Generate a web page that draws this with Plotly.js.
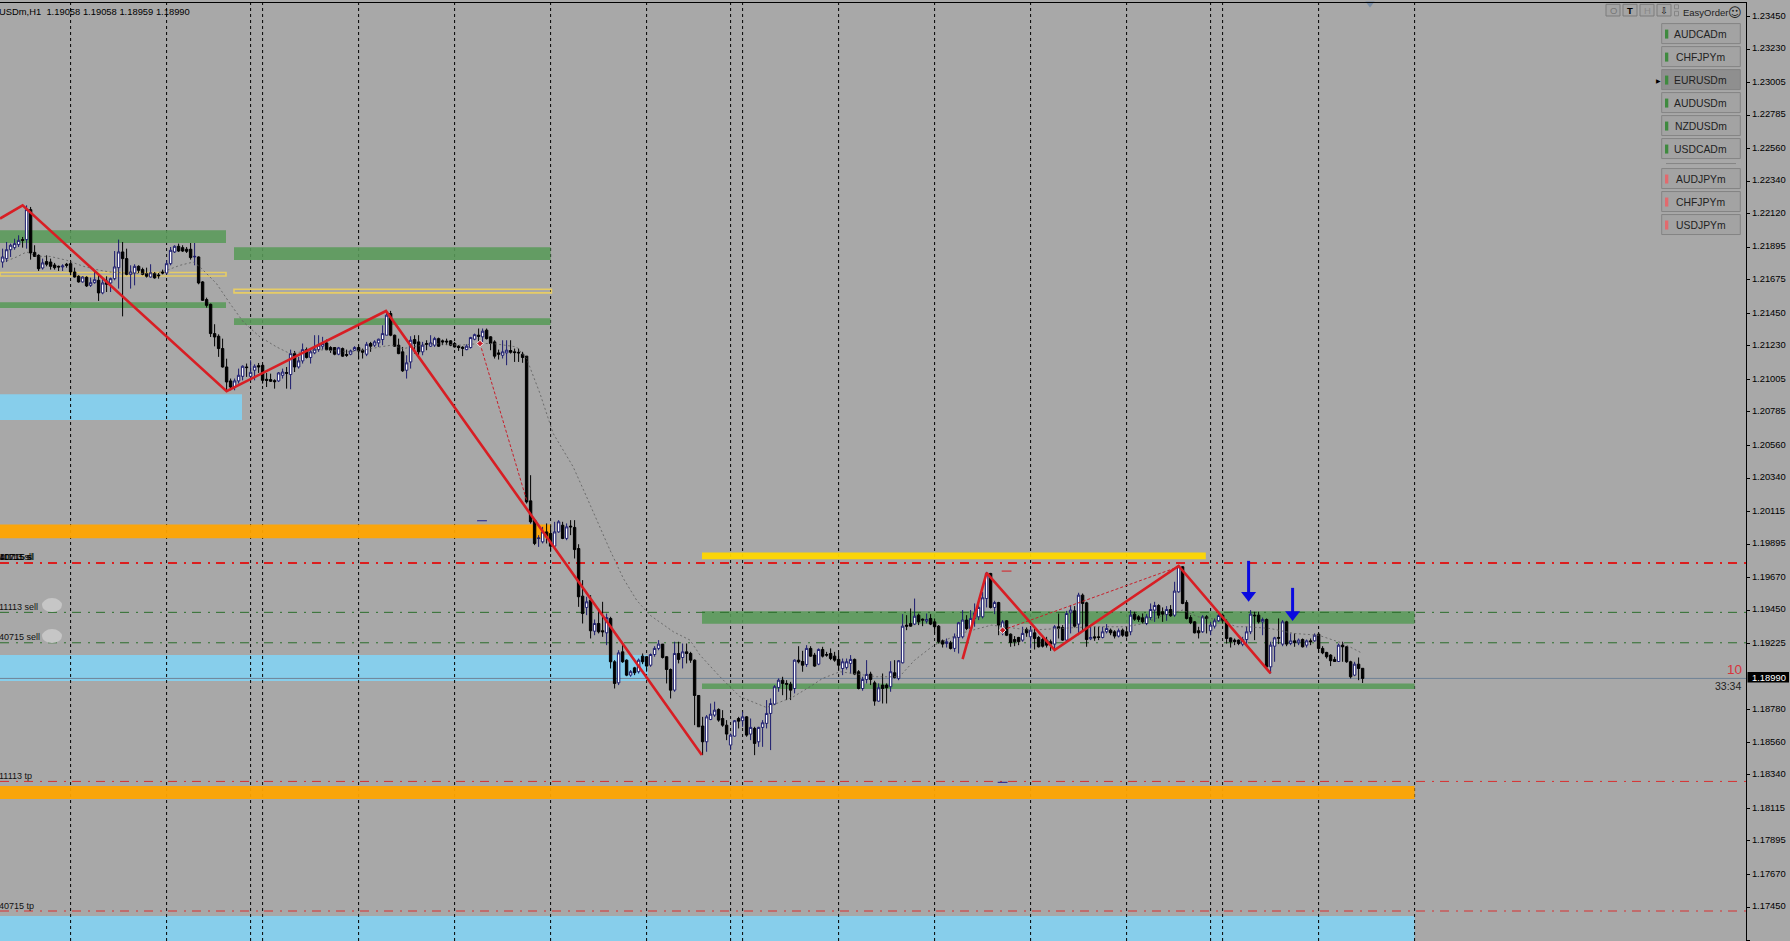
<!DOCTYPE html>
<html><head><meta charset="utf-8">
<script src="https://cdn.plot.ly/plotly-3.0.1.min.js"></script>
<style>html,body{margin:0;padding:0;background:#a8a8a8;overflow:hidden}</style>
</head><body><div id="chart" style="width:1790px;height:941px"></div>
<script>
// OHLC in points (1e-5 of price)
const openPts=[121795,121818,121878,121892,121912,121946,121946,122148,121860,121840,
121755,121798,121795,121775,121766,121762,121780,121784,121728,121699,
121661,121692,121638,121656,121672,121587,121667,121654,121683,121757,
121863,121818,121712,121721,121766,121744,121717,121694,121717,121708,
121728,121721,121784,121863,121901,121892,121881,121881,121829,121829,
121661,121542,121510,121313,121295,121212,121088,120994,120953,120994,
121025,121088,121025,121066,121097,121099,121005,121003,120996,120994,
121032,121050,121037,121178,121088,121129,121205,121152,121183,121205,
121228,121250,121219,121219,121174,121212,121172,121174,121201,121219,
121201,121174,121246,121235,121250,121273,121302,121448,121302,121235,
121190,121066,121122,121273,121257,121190,121246,121228,121235,121279,
121264,121262,121264,121246,121228,121221,121205,121219,121275,121302,
121291,121336,121291,121257,121183,121167,121183,121199,121190,121187,
121174,121161,120186,120056,119932,119910,119977,119966,119881,119977,
120022,119933,120016,120007,119865,119544,119468,119517,119308,119360,
119311,119297,119394,119102,118960,119169,119113,119012,119061,119035,
119140,119136,119079,119151,119192,119221,119136,119050,118911,119158,
119131,119169,119158,119113,118875,118669,118563,118713,118743,118781,
118720,118675,118541,118601,118720,118705,118731,118615,118653,118563,
118660,118687,118754,118817,118929,118978,118956,118951,118922,119113,
119104,119084,119192,119147,119086,119185,119151,119158,119140,119118,
119057,119064,119091,119118,119035,118922,118983,119019,118960,118837,
118945,118945,118934,119028,118990,119095,119349,119360,119356,119416,
119389,119376,119394,119371,119342,119243,119225,119230,119192,119266,
119270,119383,119326,119394,119405,119405,119528,119697,119468,119501,
119297,119378,119288,119252,119266,119248,119320,119270,119297,119266,
119252,119248,119237,119221,119338,119333,119248,119432,119445,119356,
119551,119499,119257,119270,119270,119266,119304,119315,119304,119275,
119315,119304,119304,119423,119405,119398,119360,119400,119450,119481,
119439,119421,119454,119416,119573,119742,119501,119400,119371,119311,
119304,119405,119311,119342,119378,119416,119371,119263,119248,119248,
119221,119252,119304,119416,119416,119371,119387,119068,119207,119266,
119221,119371,119225,119243,119230,119252,119214,119243,119243,119288,
119192,119165,119147,119118,119104,119214,119203,119102,119012,119086,119058];
const highPts=[121885,121930,121919,121952,121975,121964,122177,122166,121908,121847,
121818,121840,121818,121789,121771,121780,121789,121802,121757,121706,
121699,121699,121690,121739,121717,121690,121699,121690,121869,121946,
121930,121885,121773,121780,121773,121757,121757,121780,121728,121721,
121744,121807,121896,121908,121919,121908,121896,121923,121923,121833,
121667,121555,121515,121376,121308,121279,121144,121010,121010,121077,
121099,121111,121133,121106,121115,121106,121048,121043,121005,121054,
121077,121088,121205,121196,121156,121246,121219,121205,121302,121302,
121291,121273,121228,121219,121223,121219,121205,121205,121228,121235,
121212,121257,121257,121268,121279,121369,121466,121466,121306,121279,
121223,121167,121295,121302,121302,121257,121268,121302,121291,121286,
121273,121279,121268,121257,121235,121228,121241,121291,121313,121347,
121347,121347,121295,121268,121205,121268,121268,121268,121212,121212,
121190,121161,120359,120056,119955,120011,120034,120022,120045,120056,
120045,120034,120056,120056,119894,119652,119540,119551,119387,119461,
119506,119427,119405,119113,119180,119225,119118,119046,119068,119124,
119158,119140,119158,119207,119248,119221,119140,119057,119237,119237,
119225,119225,119169,119118,118877,118731,118743,118821,118833,118788,
118776,118709,118619,118709,118731,118765,118736,118720,118664,118664,
118709,118844,118855,118945,118990,119001,118978,118967,119118,119207,
119176,119214,119207,119162,119192,119203,119169,119192,119169,119162,
119124,119124,119147,119124,119046,119001,119113,119035,118974,118956,
119023,118956,119106,119113,119113,119423,119416,119461,119528,119427,
119394,119427,119423,119394,119349,119252,119259,119243,119293,119371,
119450,119416,119450,119495,119506,119573,119708,119701,119513,119506,
119383,119383,119293,119275,119270,119338,119333,119338,119333,119275,
119281,119270,119252,119349,119427,119349,119445,119484,119477,119567,
119562,119506,119338,119338,119338,119338,119356,119326,119315,119326,
119326,119333,119450,119439,119416,119427,119423,119495,119506,119490,
119468,119477,119484,119641,119753,119746,119517,119416,119376,119338,
119416,119416,119371,119394,119427,119427,119387,119266,119259,119252,
119270,119338,119450,119439,119439,119400,119394,119237,119270,119394,
119383,119378,119293,119293,119259,119259,119252,119259,119293,119293,
119207,119169,119153,119136,119225,119237,119207,119109,119102,119131,119058];
const lowPts=[121757,121795,121829,121878,121896,121892,121885,121811,121829,121735,
121744,121766,121744,121744,121735,121735,121757,121706,121690,121656,
121656,121627,121627,121649,121533,121578,121593,121593,121672,121616,
121429,121706,121616,121638,121721,121706,121690,121690,121683,121683,
121712,121712,121773,121856,121863,121863,121856,121811,121773,121645,
121533,121488,121290,121227,121156,121084,120931,120931,120931,120976,
120998,121021,120998,120998,121048,120976,120953,120987,120942,120987,
121010,120942,120938,121054,121077,121111,121145,121111,121174,121190,
121205,121201,121183,121167,121167,121156,121156,121167,121196,121138,
121145,121161,121190,121223,121223,121235,121302,121295,121223,121174,
121055,121010,121077,121178,121167,121167,121201,121223,121223,121223,
121235,121235,121228,121219,121196,121161,121201,121212,121268,121235,
121257,121273,121201,121145,121138,121145,121100,121178,121122,121122,
121116,120168,120033,119888,119876,119899,119899,119843,119876,119971,
119928,119921,119955,119798,119472,119360,119416,119259,119281,119293,
119270,119214,119057,118922,118945,119095,119005,119001,119012,119023,
119086,119035,119068,119136,119180,119124,118956,118855,118900,119091,
119057,119091,119095,118675,118664,118473,118496,118709,118731,118698,
118664,118574,118507,118597,118653,118664,118597,118574,118473,118529,
118529,118653,118507,118810,118900,118877,118844,118844,118889,119091,
119035,119068,119136,119068,119079,119131,119136,119113,119102,119046,
119012,119050,119023,119012,118916,118907,118956,118945,118806,118833,
118821,118821,118900,118990,118978,119091,119315,119338,119349,119349,
119342,119360,119349,119293,119225,119198,119198,119185,119169,119158,
119259,119315,119315,119338,119383,119394,119468,119461,119423,119281,
119281,119275,119203,119207,119214,119237,119270,119192,119185,119198,
119198,119198,119176,119180,119259,119243,119237,119293,119333,119281,
119315,119203,119248,119243,119248,119259,119293,119281,119259,119266,
119270,119266,119281,119378,119371,119360,119349,119383,119371,119394,
119371,119378,119405,119405,119567,119490,119387,119356,119293,119259,
119297,119293,119281,119326,119371,119360,119225,119198,119214,119214,
119207,119214,119288,119248,119360,119281,119057,119023,119102,119221,
119207,119207,119214,119203,119214,119198,119198,119214,119237,119162,
119153,119124,119073,119102,119102,119102,119095,118990,119005,118978,118959];
const closePts=[121829,121878,121908,121919,121941,121941,122148,121856,121833,121750,
121789,121780,121766,121757,121762,121768,121773,121728,121694,121661,
121694,121634,121656,121676,121587,121654,121645,121683,121762,121863,
121818,121712,121728,121766,121739,121712,121699,121723,121688,121703,
121721,121784,121874,121901,121869,121869,121867,121825,121833,121654,
121537,121503,121313,121290,121212,121088,120987,120953,120994,121032,
121093,121084,121052,121093,121088,120998,120998,120992,120989,121048,
121054,121046,121178,121088,121129,121205,121152,121190,121208,121235,
121246,121205,121201,121174,121217,121161,121167,121196,121219,121196,
121187,121241,121228,121257,121275,121313,121437,121302,121228,121178,
121062,121116,121268,121246,121190,121235,121241,121250,121279,121228,
121257,121257,121235,121223,121219,121214,121228,121286,121306,121295,
121329,121279,121246,121161,121174,121190,121201,121187,121185,121183,
121152,120179,120045,119899,119936,119977,119944,119881,119977,120045,
119933,120011,120011,119858,119540,119427,119506,119311,119360,119304,
119304,119400,119102,118956,119162,119102,119012,119035,119028,119113,
119102,119073,119151,119192,119221,119131,119050,118911,119158,119118,
119169,119158,119113,118875,118664,118563,118731,118749,118776,118709,
118675,118615,118608,118705,118702,118731,118608,118660,118552,118660,
118691,118754,118821,118934,118978,118956,118951,118911,119113,119102,
119079,119192,119140,119073,119185,119140,119147,119124,119113,119079,
119102,119102,119118,119019,118922,118983,119017,118983,118837,118927,
118922,118927,119035,118996,119109,119342,119342,119342,119409,119371,
119383,119387,119356,119338,119237,119221,119237,119192,119270,119365,
119383,119326,119394,119432,119468,119533,119697,119468,119501,119349,
119371,119281,119232,119237,119237,119293,119297,119315,119259,119203,
119207,119214,119221,119338,119326,119248,119427,119450,119342,119551,
119495,119252,119266,119263,119266,119304,119326,119297,119275,119311,
119281,119275,119416,119389,119387,119371,119405,119454,119481,119416,
119423,119454,119412,119578,119742,119495,119394,119365,119297,119297,
119405,119394,119349,119378,119414,119378,119259,119237,119237,119225,
119252,119304,119423,119412,119371,119387,119068,119214,119263,119261,
119371,119221,119243,119230,119248,119203,119243,119237,119281,119192,
119162,119136,119109,119104,119214,119203,119102,119001,119086,119057,118990];

// period separators (bar index)
const separators=[17,41,62,65,89,113,137,161,182,185,209,233,257,281,302,305,329,353];

// zigzag legs [bar, points]
const zigA_x=[-0.65,5,56,95.85,174.8];
const zigA_y=[122088,122177,120925,121465,118474];
const zigB_x=[240,246,263,294,317];
const zigB_y=[119120,119701,119181,119748,119024];
const thinA_x=[119.35,131];
const thinA_y=[121246,120191];
const thinB_x=[250,294];
const thinB_y=[119315,119742];

// moving average
const maBars=[1,3.5,6,8.5,11.85,16,20.2,24.35,26.85,32.65,38.5,41,44.35,47.65,49.35,53.5,56.85,60.2,64.35,68.5,71.85,78.5,86.85,91,94.35,97.25,100.1,102.65,107.6,114.35,119.35,122.6,128.5,131,134.35,137.65,142.65,146,151.85,155.2,158.5,161.85,167.7,171.85,174.35,179.35,184.35,191,194.35,197.65,201.85,205,209.35,218.5,224.2,228,232.85,239.5,247.2,256.75,272,280.65,285.45,290.25,295,298.85,304.6,308.4,311.3,317,322.75,329,335.2,340];
const maPts=[121802,121829,121863,121833,121833,121807,121766,121739,121728,121717,121721,121739,121773,121795,121762,121649,121515,121391,121290,121223,121178,121205,121190,121205,121223,121235,121212,121223,121246,121235,121246,121246,121223,121145,120909,120640,120415,120213,119854,119663,119517,119416,119304,119248,119147,119001,118866,118794,118832,118866,118934,118990,119035,119001,119001,119113,119214,119293,119349,119315,119338,119338,119360,119416,119450,119405,119383,119338,119338,119326,119293,119281,119225,119158];

// zones: bar0, bar1, points low, points high
const greenZones=[[-0.65,55.85,121923,122009],[57.85,137,121809,121894],[-0.65,55.85,121486,121524],[57.85,137,121371,121416],[174.85,353,119358,119443],[174.85,353,118918,118956]];
const blueZones=[[-0.65,59.85,120731,120905],[-0.65,161.35,118972,119147],[-0.65,353,117221,117389]];
const orangeZones=[[-0.65,137,119935,120027],[-0.65,353,118177,118265]];
const goldSolid=[[174.85,300.8,119793,119839]];
const goldHollow=[[-0.65,55.85,121701,121724],[57.85,137.2,121587,121612]];

const redThick=[119767];
const redThin=[118296,117423];
const greenThin=[119435,119230];
const bidPts=118990;

const arrowBars=[311.5,322.5];
const arrowTops=[119782,119600];
const arrowHeads=[119551,119420];

const navyDashBars=[119.85,250];
const navyDashPts=[120052,118290];
const redDashBars=[251];
const redDashPts=[119713];
const pivotBars=[119.35,250];
const pivotPts=[121246,119315];

const priceTicks=["1.23450","1.23230","1.23005","1.22785","1.22560","1.22340","1.22120","1.21895","1.21675","1.21450","1.21230","1.21005","1.20785","1.20560","1.20340","1.20115","1.19895","1.19670","1.19450","1.19225","1.18780","1.18560","1.18340","1.18115","1.17895","1.17670","1.17450","1.17225"];
const symbolsBuy=["AUDCADm","CHFJPYm","EURUSDm","AUDUSDm","NZDUSDm","USDCADm"];
const symbolsSell=["AUDJPYm","CHFJPYm","USDJPYm"];

const pr=v=>v/1e5, prs=a=>a.map(pr);
const W=1790,H=941,PW=1746,T=2.7;
const px=x=>x/PW, py=y=>1-(y-T)/(H-T);
const FONT='"Liberation Sans", Arial, sans-serif';
const xMin=-0.65,xMax=435.85,yTop=1.2354,yBot=1.17221;

const shapes=[],ann=[];
const zone=(z,fill,op)=>shapes.push({type:'rect',layer:'below',xref:'x',yref:'y',x0:z[0],x1:z[1],y0:pr(z[2]),y1:pr(z[3]),fillcolor:fill,opacity:op||1,line:{width:0}});
blueZones.forEach(z=>zone(z,'#87ceeb'));
separators.forEach(s=>shapes.push({type:'line',layer:'below',xref:'x',yref:'y',x0:s,x1:s,y0:yBot,y1:yTop,line:{color:'#000',width:1,dash:'3px,3px'}}));
greenZones.forEach(z=>zone(z,'#599a59',0.88));
orangeZones.forEach(z=>zone(z,'#ffa500',0.94));
goldSolid.forEach(z=>zone(z,'#ffd700',0.95));
goldHollow.forEach(z=>shapes.push({type:'rect',layer:'below',xref:'x',yref:'y',x0:z[0],x1:z[1],y0:pr(z[2]),y1:pr(z[3]),fillcolor:'rgba(0,0,0,0)',line:{color:'#e6cc66',width:1.6}}));
const hline=(v,c,w,d)=>shapes.push({type:'line',layer:'below',xref:'x',yref:'y',x0:xMin,x1:xMax,y0:pr(v),y1:pr(v),line:{color:c,width:w,dash:d}});
hline(bidPts,'#6f8296',1,'solid');
redThick.forEach(v=>hline(v,'#dc1e1e',2,'9px,7px,2px,6px'));
redThin.forEach(v=>hline(v,'#d83030',1,'9px,7px,2px,6px'));
greenThin.forEach(v=>hline(v,'#2c6e2c',1,'9px,7px,2px,6px'));

const text=(t,x,y,o={})=>ann.push({xref:'paper',yref:'paper',x:px(x),y:py(y),text:t,showarrow:false,xanchor:o.a||'left',yanchor:'middle',
  font:{family:o.f||FONT,size:o.s||9,color:o.c||'#111'},borderpad:0,borderwidth:0});
const rect=(x0,y0,x1,y1,fill,line)=>shapes.push({type:'rect',layer:'above',xref:'paper',yref:'paper',x0:px(x0),x1:px(x1),y0:py(y0),y1:py(y1),fillcolor:fill,line:{color:line||fill,width:line?1:0}});

// sell badges
[[605],[636]].forEach(r=>shapes.push({type:'circle',layer:'above',xref:'paper',yref:'paper',x0:px(42),x1:px(62),y0:py(r[0]-7),y1:py(r[0]+7),fillcolor:'#c6c6c6',line:{width:0}}));

text('USDm,H1  1.19058 1.19058 1.18959 1.18990',-1,11,{s:9.4,c:'#000'});
text('40715 sl',-1,557,{s:9,c:'#000'});text('11113 sl',-0.6,557,{s:9,c:'#000'});text('40715 sl',-0.2,557,{s:9,c:'#000'});
text('11113 sell',-1,606.5);text('40715 sell',-1,636.5);
text('11113 tp',-1,776);text('40715 tp',-1,906);
text('10',1734,669,{s:13.5,c:'#d8343c',a:'center'});
text('33:34',1727.5,686,{s:10.5,c:'#222',a:'center'});
rect(1747.5,672,1789,682.5,'#000');
text('1.18990',1752,677.3,{s:9.4,c:'#fff'});

// order panel
[['O',1606,'#777'],['<b>T</b>',1623,'#000'],['H',1640,'#888'],['⇩',1657,'#111']].forEach(b=>{
  rect(b[1],4,b[1]+14,15.7,'#a4a4a4','#7c7c7c');
  text(b[0],b[1]+7,10,{s:9.5,c:b[2],a:'center',f:b[0]==='⇩'?'"DejaVu Sans"':FONT});
});
rect(1674.5,4.5,1678.5,8.5,'#a8a8a8','#858585');rect(1674.5,11,1678.5,15.5,'#a8a8a8','#858585');
text('EasyOrder',1705.7,12,{s:9.5,a:'center',c:'#222'});
text('☺',1735,12,{s:13,a:'center',f:'"DejaVu Sans"',c:'#222'});
const rowTop=[23.3,46.3,69.3,92.3,115.3,138.3,168.3,191.3,214.3];
symbolsBuy.concat(symbolsSell).forEach((s,i)=>{
  const y=rowTop[i],buy=i<symbolsBuy.length,act=s==='EURUSDm'&&i===2;
  rect(1661.7,y,1740.3,y+20,act?'#8f8f8f':'#a3a3a3','#848484');
  rect(1665,y+6,1668.3,y+15,buy?'#3f8a3f':'#e26a6e');
  text(s,1700.5,y+11,{s:10.4,a:'center',c:'#222'});
});
shapes.push({type:'line',layer:'above',xref:'paper',yref:'paper',x0:px(1666),x1:px(1736),y0:py(163.3),y1:py(163.3),line:{color:'#858585',width:1}});
text('▶',1658,80,{s:6,a:'center',c:'#000',f:'"DejaVu Sans"'});

const xs=openPts.map((_,i)=>i);
const traces=[
 {type:'scatter',mode:'lines',x:maBars,y:prs(maPts),line:{color:'#5c5c5c',width:0.8,dash:'2px,2.5px'},hoverinfo:'skip'},
 {type:'candlestick',x:xs,open:prs(openPts),high:prs(highPts),low:prs(lowPts),close:prs(closePts),whiskerwidth:0,
  increasing:{line:{color:'#1c1c6e',width:1},fillcolor:'#ffffff'},decreasing:{line:{color:'#000',width:1},fillcolor:'#000'},hoverinfo:'skip'},
 {type:'scatter',mode:'lines',x:thinA_x,y:prs(thinA_y),line:{color:'#c81e2a',width:1,dash:'3px,2px'},hoverinfo:'skip'},
 {type:'scatter',mode:'lines',x:thinB_x,y:prs(thinB_y),line:{color:'#c81e2a',width:1,dash:'3px,2px'},hoverinfo:'skip'},
 {type:'scatter',mode:'lines',x:zigA_x,y:prs(zigA_y),line:{color:'#d81e24',width:2.6},hoverinfo:'skip'},
 {type:'scatter',mode:'lines',x:zigB_x,y:prs(zigB_y),line:{color:'#d81e24',width:2.6},hoverinfo:'skip'},
 {type:'scatter',mode:'lines',x:[arrowBars[0],arrowBars[0]],y:prs([arrowTops[0],arrowHeads[0]]),line:{color:'#0a0ae0',width:3},hoverinfo:'skip'},
 {type:'scatter',mode:'lines',x:[arrowBars[1],arrowBars[1]],y:prs([arrowTops[1],arrowHeads[1]]),line:{color:'#0a0ae0',width:3},hoverinfo:'skip'},
 {type:'scatter',mode:'markers',x:arrowBars,y:prs(arrowHeads),marker:{symbol:'triangle-down',size:13,color:'#0a0ae0',line:{width:0}},hoverinfo:'skip'},
 {type:'scatter',mode:'markers',x:navyDashBars,y:prs(navyDashPts),marker:{symbol:'line-ew',size:7,line:{width:1,color:'#1c1c8e'},color:'#1c1c8e'},hoverinfo:'skip'},
 {type:'scatter',mode:'markers',x:redDashBars,y:prs(redDashPts),marker:{symbol:'line-ew',size:7,line:{width:1,color:'#d81e24'},color:'#d81e24'},hoverinfo:'skip'},
 {type:'scatter',mode:'markers',x:pivotBars,y:prs(pivotPts),marker:{symbol:'diamond',size:5,color:'#c81e2a',line:{width:1,color:'#eeeeee'}},hoverinfo:'skip'},
 {type:'scatter',mode:'markers',x:[341.85],y:[1.23537],marker:{symbol:'triangle-down',size:8,color:'#7a8ea6'},hoverinfo:'skip',cliponaxis:false}
];
const layout={width:W,height:H,margin:{l:0,r:W-PW,t:T,b:0,pad:0},paper_bgcolor:'#a8a8a8',plot_bgcolor:'#a8a8a8',showlegend:false,boxgap:0.25,boxgroupgap:0.2,
 xaxis:{type:'linear',range:[xMin,xMax],side:'top',showgrid:false,zeroline:false,showticklabels:false,ticks:'',showline:true,linecolor:'#000',linewidth:1,rangeslider:{visible:false},fixedrange:true},
 yaxis:{type:'linear',range:[yBot,yTop],side:'right',showgrid:false,zeroline:false,showline:true,linecolor:'#000',linewidth:1,tickmode:'array',tickvals:priceTicks.map(Number),ticktext:priceTicks,ticks:'outside',ticklen:3,tickcolor:'#000',ticklabelshift:-1,tickfont:{family:FONT,size:9.4,color:'#000'},fixedrange:true},
 shapes:shapes,annotations:ann};
Plotly.newPlot('chart',traces,layout,{displayModeBar:false,staticPlot:true});
</script></body></html>
